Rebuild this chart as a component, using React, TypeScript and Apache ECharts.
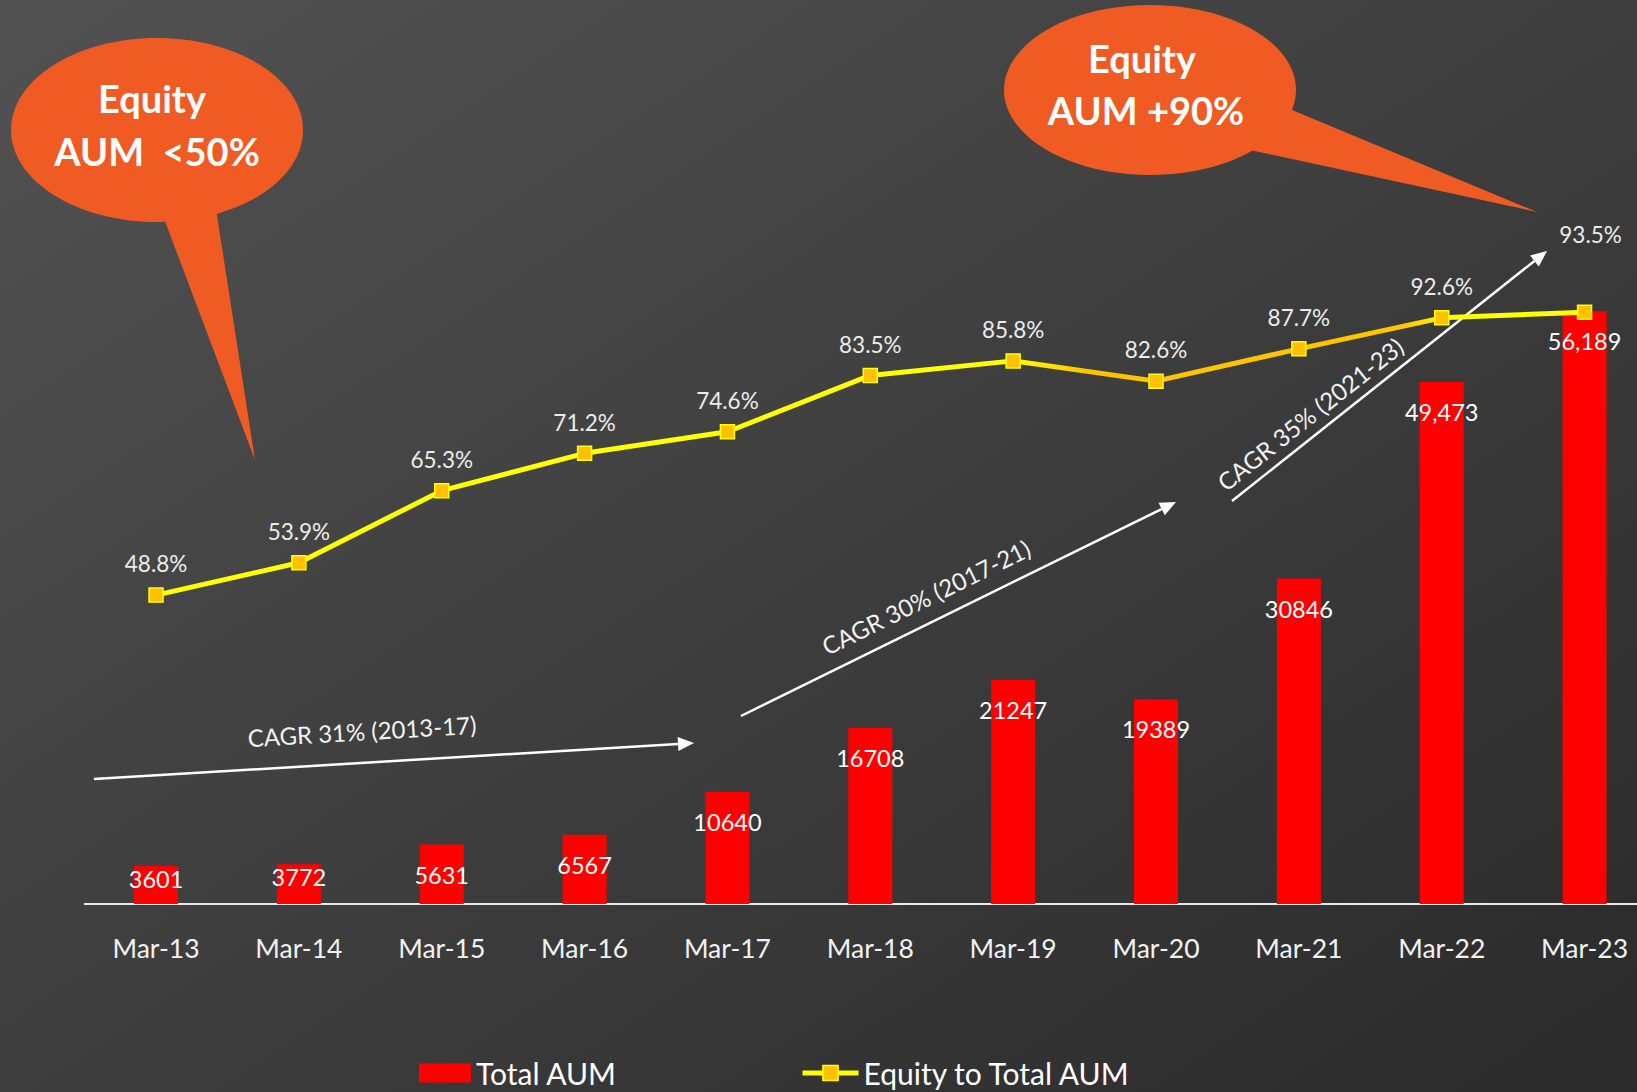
import React, { useEffect, useRef } from "react";
import * as echarts from "echarts";

const categories = ["Mar-13", "Mar-14", "Mar-15", "Mar-16", "Mar-17", "Mar-18", "Mar-19", "Mar-20", "Mar-21", "Mar-22", "Mar-23"];
const totalAUM = [3601, 3772, 5631, 6567, 10640, 16708, 21247, 19389, 30846, 49473, 56189];
const barLabels = ["3601", "3772", "5631", "6567", "10640", "16708", "21247", "19389", "30846", "49,473", "56,189"];
const equityShare = [48.8, 53.9, 65.3, 71.2, 74.6, 83.5, 85.8, 82.6, 87.7, 92.6, 93.5];

const FONT = "Lato, 'Open Sans', sans-serif";
const ORANGE = "#EF5B23";
const CHART_W = 1656;

function arrow(x1: number, y1: number, x2: number, y2: number) {
  const ang = Math.atan2(y2 - y1, x2 - x1);
  const L = 16, W = 7;
  const bx = x2 - L * Math.cos(ang), by = y2 - L * Math.sin(ang);
  const px = -Math.sin(ang), py = Math.cos(ang);
  return [
    { type: "line", shape: { x1, y1, x2: bx, y2: by }, style: { stroke: "#ffffff", lineWidth: 2.5 } },
    {
      type: "polygon",
      shape: { points: [[x2, y2], [bx + px * W, by + py * W], [bx - px * W, by - py * W]] },
      style: { fill: "#ffffff" },
    },
  ];
}

function rotText(text: string, x: number, y: number, deg: number) {
  return {
    type: "text",
    x, y,
    rotation: (deg * Math.PI) / 180,
    style: { text, fill: "#f2f2f2", font: `24px ${FONT}`, textAlign: "center", textVerticalAlign: "middle" },
  };
}

function bubbleText(text: string, x: number, y: number) {
  return {
    type: "text", x, y, z: 20,
    style: { text, fill: "#ffffff", font: `bold 38px ${FONT}`, textAlign: "center", textVerticalAlign: "middle" },
  };
}

export default function App() {
  const ref = useRef<HTMLDivElement>(null);
  useEffect(() => {
    const chart = echarts.init(ref.current!, null, { renderer: "svg" });
    const lineGrad = new echarts.graphic.LinearGradient(0, 0, 1, 0, [
      { offset: 0, color: "#FFFF00" },
      { offset: 0.6, color: "#FFFF00" },
      { offset: 0.65, color: "#FFC400" },
      { offset: 0.87, color: "#FFC400" },
      { offset: 0.91, color: "#FFFF00" },
      { offset: 1, color: "#FFFF00" },
    ]);
    const option: any = {
      animation: false,
      backgroundColor: new echarts.graphic.LinearGradient(0, 0, 1, 1, [
        { offset: 0, color: "#525252" },
        { offset: 1, color: "#2a2a2a" },
      ]),
      textStyle: { fontFamily: FONT },
      grid: { left: 84.6, right: 0, top: 271, bottom: 188, containLabel: false },
      legend: [
        {
          data: ["Total AUM"], left: 414, top: 1053, itemWidth: 52, itemHeight: 19, itemGap: 6,
          textStyle: { color: "#ffffff", fontSize: 30, fontFamily: FONT }, icon: "rect",
        },
        {
          data: [{ name: "Equity to Total AUM", lineStyle: { color: "#FFFF00", width: 5 }, itemStyle: { color: "#FFC000", borderColor: "#FFFF00", borderWidth: 1.5 } }],
          left: 795, top: 1053, itemWidth: 56, itemHeight: 19, itemGap: 6,
          textStyle: { color: "#ffffff", fontSize: 30, fontFamily: FONT },
        },
      ],
      xAxis: {
        type: "category",
        data: categories,
        boundaryGap: true,
        axisTick: { show: false },
        axisLine: { show: true, lineStyle: { color: "#e8e8e8", width: 2 } },
        axisLabel: { color: "#f2f2f2", fontSize: 26.5, margin: 30, fontFamily: FONT },
      },
      yAxis: [
        { type: "value", min: 0, max: 60000, show: false, splitLine: { show: false } },
        { type: "value", min: 0, max: 100, show: false, splitLine: { show: false } },
      ],
      series: [
        {
          name: "Total AUM",
          type: "bar",
          barWidth: 44,
          itemStyle: { color: "#FF0000" },
          data: totalAUM.map((v) => ({
            value: v,
            label: v < 4000 ? { position: "insideTop", distance: 1 } : undefined,
          })),
          label: {
            show: true,
            position: "insideTop",
            distance: 18,
            color: "#ffffff",
            fontSize: 23.5,
            fontFamily: FONT,
            formatter: (p: any) => barLabels[p.dataIndex],
          },
        },
        {
          name: "Equity to Total AUM",
          type: "line",
          yAxisIndex: 1,
          symbol: "rect",
          symbolSize: 14,
          z: 5,
          lineStyle: { color: lineGrad, width: 5 },
          itemStyle: { color: "#FFC000", borderColor: "#FFFF00", borderWidth: 1.5 },
          data: equityShare.map((v, i) => ({
            value: v,
            label: i === equityShare.length - 1 ? { offset: [6, -46] } : undefined,
          })),
          label: {
            show: true,
            position: "top",
            distance: 12,
            color: "#ececec",
            fontSize: 22.5,
            fontFamily: FONT,
            formatter: (p: any) => `${p.value}%`,
          },
        },
      ],
      graphic: [
        { type: "polygon", z: 10, shape: { points: [[157, 200], [214, 196], [255, 460]] }, style: { fill: ORANGE } },
        { type: "ellipse", z: 10, shape: { cx: 157, cy: 130, rx: 146, ry: 92 }, style: { fill: ORANGE } },
        bubbleText("Equity", 152, 98),
        bubbleText("AUM  <50%", 157, 151),
        { type: "polygon", z: 10, shape: { points: [[1280, 105], [1250, 150], [1537, 212]] }, style: { fill: ORANGE } },
        { type: "ellipse", z: 10, shape: { cx: 1150, cy: 90, rx: 146, ry: 85 }, style: { fill: ORANGE } },
        bubbleText("Equity", 1142, 58),
        bubbleText("AUM +90%", 1146, 110),
        ...arrow(94, 779, 694, 743),
        ...arrow(741, 716, 1176, 502),
        ...arrow(1232, 501, 1547, 251),
        rotText("CAGR 31% (2013-17)", 362, 731, 3.4),
        rotText("CAGR 30% (2017-21)", 926, 597, 26.2),
        rotText("CAGR 35% (2021-23)", 1310, 414, 38.4),
      ],
    };
    chart.setOption(option);
    return () => chart.dispose();
  }, []);
  return (
    <div style={{ position: "fixed", left: 0, top: 0, width: 1637, height: 1092, overflow: "hidden" }}>
      <div ref={ref} style={{ width: CHART_W, height: 1092 }} />
    </div>
  );
}
